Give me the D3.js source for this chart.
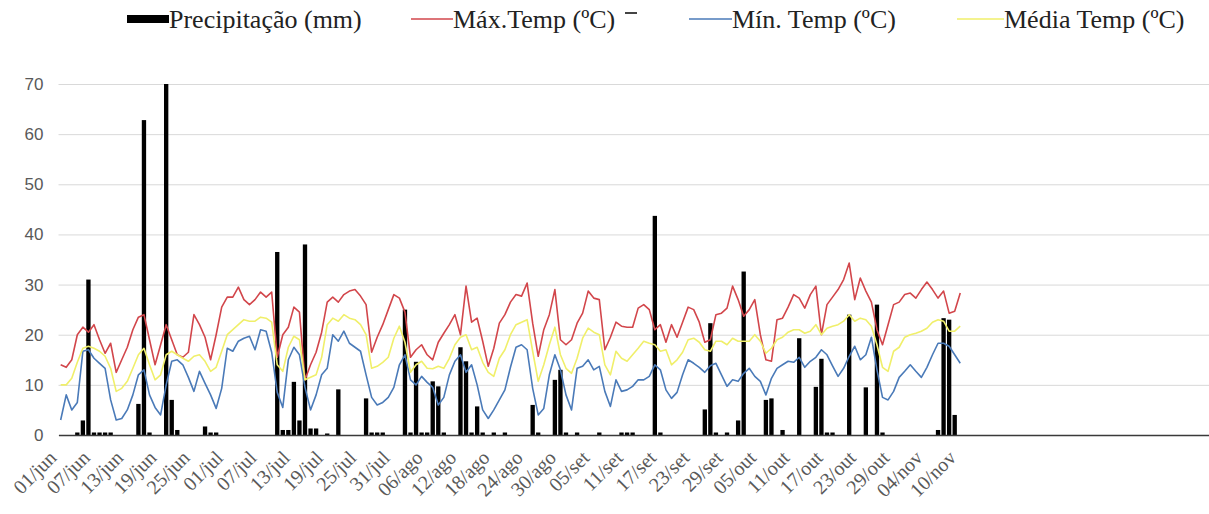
<!DOCTYPE html>
<html>
<head>
<meta charset="utf-8">
<script src="https://cdn.jsdelivr.net/npm/d3@7"></script>
<style>
  body { margin: 0; background: #fff; }
  svg { display: block; }
</style>
</head>
<body>
<svg id="chart" width="1209" height="514"></svg>
<script>
// one value per day, 01/jun .. 10/nov
const tickLabels = ['01/jun', '07/jun', '13/jun', '19/jun', '25/jun', '01/jul', '07/jul', '13/jul', '19/jul',
    '25/jul', '31/jul', '06/ago', '12/ago', '18/ago', '24/ago', '30/ago', '05/set', '11/set', '17/set',
    '23/set', '29/set', '05/out', '11/out', '17/out', '23/out', '29/out', '04/nov', '10/nov'];

const precipitation = [
    0, 0, 0, 0.5, 2.9, 31, 0.5, 0.5, 0.5, 0.5,
    0, 0, 0, 0, 6.2, 62.8, 0.5, 0, 0, 70,
    7, 1, 0, 0, 0, 0, 1.7, 0.5, 0.5, 0,
    0, 0, 0, 0, 0, 0, 0, 0, 0, 36.5,
    1, 1, 10.6, 2.9, 38, 1.3, 1.3, 0, 0.3, 0,
    9.1, 0, 0, 0, 0, 7.3, 0.5, 0.5, 0.5, 0,
    0, 0, 25, 0.5, 14.6, 0.5, 0.5, 10.7, 9.7, 0.5,
    0, 0, 17.5, 14.7, 0.5, 5.7, 0.5, 0, 0.5, 0,
    0.5, 0, 0, 0, 0, 6, 0.5, 0, 0, 11,
    13, 0.5, 0, 0.5, 0, 0, 0, 0.5, 0, 0,
    0, 0.5, 0.5, 0.5, 0, 0, 0, 43.7, 0.5, 0,
    0, 0, 0, 0, 0, 0, 5.1, 22.3, 0.5, 0,
    0.5, 0, 2.9, 32.6, 0, 0, 0, 7, 7.3, 0,
    1, 0, 0, 19.3, 0, 0, 9.6, 15.2, 0.5, 0.5,
    0, 0, 24, 0, 0, 9.5, 0, 26, 0.5, 0,
    0, 0, 0, 0, 0, 0, 0, 0, 1, 23.3,
    23, 4, 0
];

const maxTemp = [
    14, 13.5, 15, 20, 21.5, 20.5, 22, 19, 16.3,
    18.3, 12.5, 15, 17.5, 21, 23.5, 24, 19, 14, 18, 22, 19, 16,
    15.5, 16.5, 24, 22, 19.5, 15, 20, 25.5, 27.5, 27.5, 29.5, 27, 26,
    27, 28.5, 27.5, 28.5, 15.5, 20, 21.5, 25.5, 24.5, 11, 14, 16.5, 20.5, 26.5, 27.5,
    26.5, 28, 28.7, 29, 27.7, 26, 16.5, 19.5, 22, 25, 28, 27.3, 24.5, 15.5, 17, 18,
    16, 15, 18.5, 20.3, 22, 24, 20, 29.7, 22.5, 23.3, 18.7, 13.7, 17.3,
    22.3, 24, 26.5, 28, 27.7, 30.3, 22.3, 15.7, 21, 24, 29, 19, 18, 19, 22.3,
    24.3, 28.7, 27.3, 27, 17, 19.5, 22.5, 21.7, 21.5, 21.5, 25.3, 26, 25, 21, 22, 18.5,
    22, 19.5, 22.5, 25.5, 25, 22.5, 18.5, 19, 24, 24.3,
    25.3, 29.7, 27, 23.7, 25, 27, 20, 15, 14.7, 23, 23.3, 25.5, 28, 27.3, 25.3, 28, 29.7, 20,
    26, 27.5, 29, 31, 34.3, 27, 31.3, 28.7, 26.5, 21, 18, 22, 26, 26.5,
    28, 28.3, 27.3, 29, 30.5, 29, 27.3, 28.7, 24.3, 24.7, 28.3
];

const minTemp = [
    3, 8, 5, 6.5, 16.7, 17, 15.3, 14.3, 13.3,
    7, 3, 3.3, 5, 8, 12, 13, 8, 5.5, 4, 10, 14.7, 15,
    14, 11.5, 8.7, 12.7, 10.3, 8, 5.3, 9.3, 17.3, 16.7, 18.7, 19.3,
    19.7, 17, 21, 20.7, 16.5, 8.5, 5.5, 15, 17.5, 16, 9.5, 5, 8, 12, 13.3, 20, 18.7,
    20.7, 18.3, 17.5, 16.7, 12, 7.5, 6, 6.5, 7.5, 9.5, 14, 16, 11, 10, 11.7,
    10.5, 9.5, 6, 7.5, 12, 14.7, 16, 12.5, 14, 10, 5, 3.3,
    5, 7, 9, 13.5, 17.5, 18, 17, 9.3, 4, 5.3, 12, 16, 13, 8, 5,
    13.3, 13.7, 15, 13, 13.7, 8.7, 5.7, 11, 8.7, 9, 9.7, 11, 11, 11.7, 14, 13,
    9, 7.3, 8.5, 12, 15, 14.3, 13.5, 12.5, 13.8, 14.3, 12,
    9.7, 11, 10.7, 12.3, 13.3, 11.7, 10.7, 8, 11.3, 13.3, 14, 14.7, 14.5, 15.5, 13.5, 14.7, 15.5, 17, 16,
    13.8, 11.7, 13.3, 15.7, 17.7, 15, 16, 19.5, 13, 7.5, 7, 8.7,
    11.5, 12.7, 14, 12.7, 11.5, 13.5, 16, 18.3, 18.3, 17.7, 16, 14.3
];

const meanTemp = [
    10, 10, 11.3, 14.5, 17.3, 17.7, 17.3, 16.7, 15.7,
    13.3, 8.7, 9.3, 10.7, 13.3, 16, 17.3, 14, 11, 12, 16, 16.7, 16,
    15.3, 14.7, 15.7, 16, 14.7, 12.7, 13.5, 16.7, 20, 21, 22, 23, 22.7,
    22.7, 23.5, 23.3, 22.5, 14, 12.7, 17.5, 19.7, 19, 11, 11.5, 12, 15.5, 22, 23.3,
    22.7, 24, 23.3, 23, 22, 20, 13.3, 13.7, 14.5, 15.5, 19.3, 21.7, 18.5, 12.5, 14, 14.7,
    13.3, 13.2, 13.7, 13.3, 15.3, 18, 19.5, 20, 17, 17.5, 14.5, 12.5, 11.7,
    15.3, 17, 20, 22, 22.5, 23, 16.7, 10.7, 14, 18, 21.5, 16, 13.3, 12.3, 15.3,
    19.3, 21.3, 20.5, 20, 14, 12, 16.7, 15.3, 14.7, 16, 17.3, 18.7, 18.3, 18, 16.7, 17,
    14, 15, 16.5, 19, 19.3, 18.5, 17, 16.7, 18.7, 18.7,
    18, 19.3, 18.7, 18.7, 18.7, 20, 18.7, 16.3, 17.3, 19, 19.5, 20.5, 21, 21, 20.3, 20.7, 22, 20,
    21.3, 21.7, 22, 22.7, 24, 22.7, 23.3, 23, 21.7, 18, 13.5, 12.7, 16.7, 17.5,
    19.5, 20, 20.3, 20.7, 21.3, 22.5, 23, 22.7, 20.7, 20.7, 21.7
];

const yTicks = [0, 10, 20, 30, 40, 50, 60, 70];

const legendItems = [
    { label: 'Precipitação (mm)', type: 'bar', color: '#000' },
    { label: 'Máx.Temp (ºC)', type: 'line', color: '#d2464b' },
    { label: 'Mín. Temp (ºC)', type: 'line', color: '#4a7ab8' },
    { label: 'Média Temp (ºC)', type: 'line', color: '#f0ef6a' }
];

const svg = d3.select('#chart');

const left = 58.5, baseY = 435, topY = 84;
const dayStep = 5.553;
const totalDays = 214; // category axis runs on to 31/dec, only the first part has data

const x = d3.scaleBand()
    .domain(d3.range(totalDays))
    .range([left, left + dayStep * (totalDays - 0.22)])
    .paddingInner(0.22);
const cx = i => x(i) + x.bandwidth() / 2;

const y = d3.scaleLinear().domain([0, 70]).range([baseY, topY]);

// gridlines + y labels
const yAxis = svg.append('g')
    .attr('transform', `translate(${left},0)`)
    .call(d3.axisLeft(y).tickValues(yTicks).tickSize(-(1209 - left)).tickPadding(15));
yAxis.select('.domain').remove();
yAxis.selectAll('line').attr('stroke', '#d9d9d9').attr('stroke-width', 1);
yAxis.selectAll('text')
    .attr('fill', '#595959')
    .style('font-family', '"Liberation Sans", Arial, sans-serif')
    .style('font-size', '17px');

// bars
svg.append('g')
    .selectAll('rect')
    .data(precipitation)
    .join('rect')
    .attr('x', (d, i) => x(i))
    .attr('width', x.bandwidth())
    .attr('y', d => y(d))
    .attr('height', d => baseY - y(d))
    .attr('fill', '#000');

// x axis
const xAxis = svg.append('g')
    .attr('transform', `translate(0,${baseY})`)
    .call(d3.axisBottom(x)
        .tickValues(tickLabels.map((t, k) => k * 6))
        .tickFormat(i => tickLabels[i / 6])
        .tickSize(0)
        .tickSizeOuter(0));
xAxis.select('.domain').attr('stroke', '#3a3a3a').attr('stroke-width', 1.6);
xAxis.selectAll('text')
    .attr('x', 0).attr('y', 0).attr('dy', 0)
    .attr('text-anchor', 'end')
    .attr('transform', 'translate(-3,24) rotate(-45)')
    .attr('fill', '#595959')
    .style('font-family', '"Liberation Serif", "Times New Roman", serif')
    .style('font-size', '20px');

// lines
const series = [maxTemp, minTemp, meanTemp];
const line = d3.line().x((d, i) => cx(i)).y(d => y(d));
series.forEach((s, k) => {
    svg.append('path')
        .datum(s)
        .attr('fill', 'none')
        .attr('stroke', legendItems[k + 1].color)
        .attr('stroke-width', 1.6)
        .attr('stroke-linejoin', 'round')
        .attr('d', line);
});

// leftover dash above legend
svg.append('line')
    .attr('x1', 625).attr('x2', 637).attr('y1', 13).attr('y2', 13)
    .attr('stroke', '#444').attr('stroke-width', 2);

// legend
const legendX = [127, 411, 689, 957];
const legendW = [42, 42, 43, 47];
const legend = svg.append('g');
legendItems.forEach((item, k) => {
    const g = legend.append('g').attr('transform', `translate(${legendX[k]},0)`);
    if (item.type === 'bar') {
        g.append('rect').attr('x', 0).attr('y', 15).attr('width', legendW[k]).attr('height', 8).attr('fill', item.color);
    } else {
        g.append('line').attr('x1', 0).attr('x2', legendW[k]).attr('y1', 19).attr('y2', 19)
            .attr('stroke', item.color).attr('stroke-width', 1.6);
    }
    g.append('text')
        .attr('x', legendW[k])
        .attr('y', 28)
        .attr('fill', '#222')
        .style('font-family', '"Liberation Serif", "Times New Roman", serif')
        .style('font-size', '26px')
        .text(item.label);
});
</script>
</body>
</html>
